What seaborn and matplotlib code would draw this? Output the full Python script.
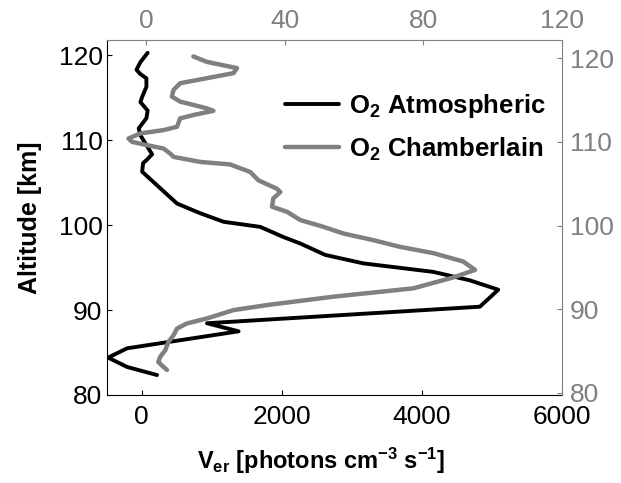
import numpy as np
import pandas as pd
import matplotlib
matplotlib.use("Agg")
import matplotlib.pyplot as plt
from matplotlib.lines import Line2D
import seaborn as sns

sns.set_theme(style="white")
plt.rcParams["font.family"] = ["Liberation Sans", "DejaVu Sans"]
plt.rcParams["text.color"] = "black"
plt.rcParams["axes.labelcolor"] = "black"
plt.rcParams["mathtext.fontset"] = "custom"
plt.rcParams["mathtext.rm"] = "Liberation Sans"
plt.rcParams["mathtext.bf"] = "Liberation Sans:bold"
plt.rcParams["mathtext.it"] = "Liberation Sans:italic"

# O2 Atmospheric band volume emission rate (bottom / left axes)
alt_atm = [120.3, 119.2, 118.3, 117.8, 117.3, 116.3, 115.1, 114.5, 113.5, 112.6,
           111.4, 110.6, 109.2, 108.35, 107.8, 107.3, 106.3, 102.55, 101.4, 100.4,
           99.8, 98.6, 97.85, 96.5, 95.5, 94.5, 93.5, 92.4, 90.4, 88.45,
           87.5, 85.5, 84.4, 83.3, 82.35]
ver_atm = [85, -19, -75, -19, 67, 67, 6, -19, 85, 67,
           -43, -19, 85, 148, 85, 20, 6, 504, 837, 1169,
           1692, 2024, 2262, 2619, 3165, 4163, 4686, 5090, 4828, 932,
           1383, -208, -480, -208, 219]

# O2 Chamberlain band volume emission rate (top / right axes)
alt_cham = [120.2, 119.55, 118.8, 118.2, 117.6, 117.0, 116.2, 115.4, 114.8, 114.0,
            113.7, 113.2, 112.8, 111.8, 111.4, 111.0, 110.4, 110.0, 109.6, 109.2,
            108.6, 108.2, 107.6, 107.3, 106.4, 105.4, 104.4, 104.0, 103.25, 102.25,
            101.65, 100.65, 99.85, 99.05, 98.25, 97.45, 96.7, 95.7, 94.7, 93.8,
            92.5, 91.5, 90.5, 89.9, 88.9, 88.3, 87.7, 86.9, 86.1, 85.1,
            84.3, 83.7, 83.3, 82.75]
ver_cham = [13.6, 17.5, 26.2, 25.2, 17.5, 9.8, 7.9, 7.4, 9.8, 17.5,
            19.4, 13.6, 9.8, 8.9, 5.0, -1.7, -5.1, -4.1, 0.2, 5.0,
            6.9, 7.9, 15.6, 24.2, 30.0, 32.4, 37.7, 38.7, 36.7, 36.3,
            40.6, 44.5, 51.1, 56.9, 65.6, 73.3, 82.9, 91.5, 94.9, 88.6,
            77.1, 54.0, 34.8, 25.2, 17.5, 11.7, 8.9, 7.9, 6.4, 5.5,
            4.0, 3.5, 4.5, 6.0]

legend_labels = [r"$\mathbf{O_2}$ Atmospheric", r"$\mathbf{O_2}$ Chamberlain"]
bottom_ticks = [0, 2000, 4000, 6000]
top_ticks = [0, 40, 80, 120]
alt_ticks = [80, 90, 100, 110, 120]

GRAY = "#808080"
FS = 19

fig = plt.figure(figsize=(6.21, 4.83), dpi=100)
rect = [0.1718, 0.1822, 0.7332, 0.7348]
ax = fig.add_axes(rect)

df_atm = pd.DataFrame({"ver": ver_atm, "alt": alt_atm})
sns.lineplot(data=df_atm, x="ver", y="alt", sort=False, estimator=None,
             color="black", lw=2.8, ax=ax)
ax.set_xlim(-500, 6000)
ax.set_ylim(80, 121.8)
ax.set_xticks(bottom_ticks)
ax.set_yticks(alt_ticks)
ax.tick_params(direction="in", length=3.5, width=0.8, labelsize=FS,
               colors="black", bottom=True, left=True)
ax.tick_params(axis="x", pad=7)
ax.tick_params(axis="y", pad=3)
for s in ["top", "right"]:
    ax.spines[s].set_visible(False)
for s in ["left", "bottom"]:
    ax.spines[s].set_color("black")
    ax.spines[s].set_linewidth(0.8)
ax.set_xlabel(r"$\mathbf{V_{er}}$ [photons cm$^{\mathbf{-3}}$ s$^{\mathbf{-1}}$]",
              fontsize=17, fontweight="bold")
ax.xaxis.set_label_coords(0.47, -0.143)
ax.set_ylabel("Altitude [km]", fontsize=18, fontweight="bold", labelpad=12)

ax2 = fig.add_axes(rect, facecolor="none")
df_cham = pd.DataFrame({"ver": ver_cham, "alt": alt_cham})
sns.lineplot(data=df_cham, x="ver", y="alt", sort=False, estimator=None,
             color=GRAY, lw=3.2, ax=ax2)
ax2.set_xlim(-11.4, 120)
ax2.set_ylim(79.76, 122.15)
ax2.set_xticks(top_ticks)
ax2.set_yticks(alt_ticks)
ax2.xaxis.set_ticks_position("top")
ax2.xaxis.set_label_position("top")
ax2.yaxis.set_ticks_position("right")
ax2.yaxis.set_label_position("right")
ax2.set_xlabel("")
ax2.set_ylabel("")
ax2.tick_params(direction="in", length=3.5, width=0.8, labelsize=FS,
                colors=GRAY, top=True, right=True, bottom=False, left=False)
ax2.tick_params(axis="x", pad=5)
ax2.tick_params(axis="y", pad=5.5)
for s in ["left", "bottom"]:
    ax2.spines[s].set_visible(False)
for s in ["top", "right"]:
    ax2.spines[s].set_color(GRAY)
    ax2.spines[s].set_linewidth(0.8)

handles = [Line2D([], [], color="black", lw=2.8), Line2D([], [], color=GRAY, lw=3.2)]
ax2.legend(handles, legend_labels, loc="upper left",
           bbox_to_anchor=(285 / 621, 1 - 92 / 483), bbox_transform=fig.transFigure,
           frameon=False, borderpad=0, borderaxespad=0,
           prop={"weight": "bold", "size": 18.5},
           handlelength=2.1, handletextpad=0.38, labelspacing=0.6)

fig.savefig("out.png", dpi=100)
